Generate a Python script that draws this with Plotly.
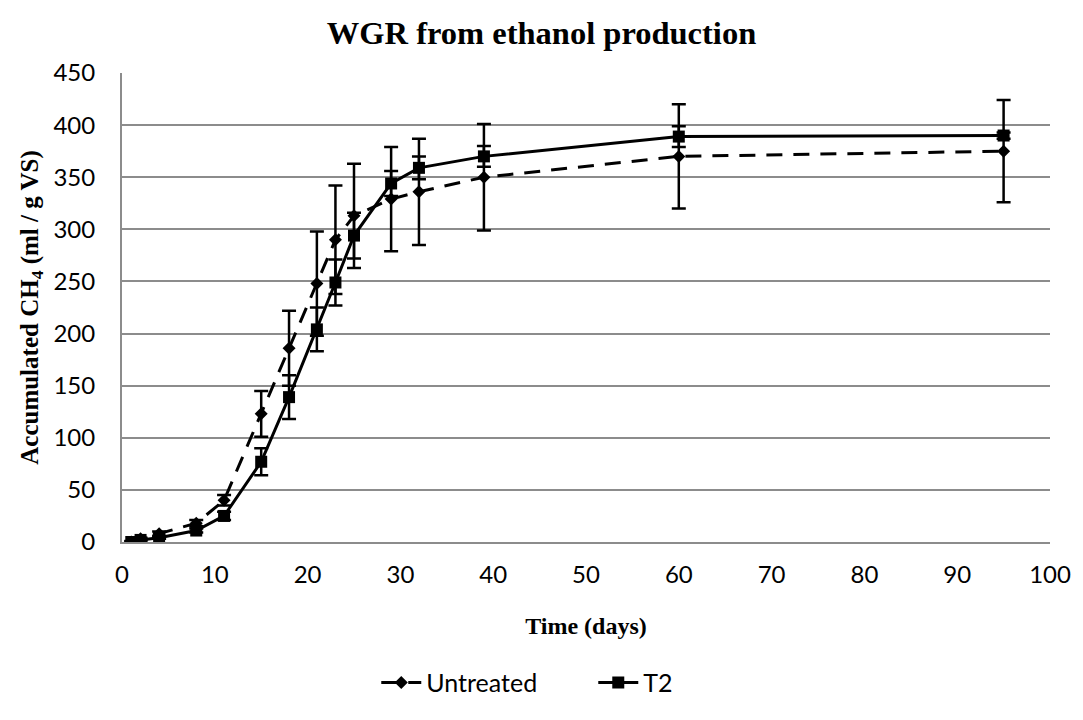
import plotly.graph_objects as go

days = [1, 2, 4, 8, 11, 15, 18, 21, 23, 25, 29, 32, 39, 60, 95]

untreated = [0, 3, 8, 18, 40, 123, 186, 248, 290, 313, 329, 336, 350, 370, 375]
untreated_err = [1, 1, 2, 3, 5, 22, 36, 50, 52, 50, 50, 51, 51, 50, 49]

t2 = [0, 2, 4, 11, 25, 77, 139, 204, 249, 294, 344, 359, 370, 389, 390]
t2_err = [0.5, 1, 1, 2, 4, 13, 21, 21, 22, 22, 12, 11, 10, 10, 3]

x_ticks = list(range(0, 101, 10))
y_ticks = list(range(0, 451, 50))

serif = "Liberation Serif"
sans = "Lato"

fig = go.Figure()
fig.add_trace(go.Scatter(
    x=days, y=untreated, name="Untreated", mode="lines+markers",
    line=dict(color="black", width=3, dash="16px,11px"),
    marker=dict(symbol="diamond", size=10, color="black"),
    error_y=dict(type="data", array=untreated_err, visible=True,
                 color="black", thickness=2.5, width=7),
))
fig.add_trace(go.Scatter(
    x=days, y=t2, name="T2", mode="lines+markers",
    line=dict(color="black", width=3),
    marker=dict(symbol="square", size=12, color="black"),
    error_y=dict(type="data", array=t2_err, visible=True,
                 color="black", thickness=2.5, width=7),
))

fig.update_layout(
    width=1083, height=720,
    paper_bgcolor="white", plot_bgcolor="white",
    margin=dict(l=122, r=26, t=73, b=178),
    title=dict(text="<b>WGR from ethanol production</b>",
               font=dict(family=serif, size=32.5, color="black"),
               x=0.5, xanchor="center", y=0.955, yanchor="middle"),
    showlegend=True,
    legend=dict(orientation="h", x=0.274, xanchor="left", y=-0.30,
                yanchor="middle", font=dict(family=sans, size=25, color="black"),
                itemwidth=40, entrywidth=162,
                bgcolor="rgba(0,0,0,0)"),
    xaxis=dict(range=[0, 100], tickvals=x_ticks, ticktext=[str(v) for v in x_ticks],
               showgrid=False, zeroline=False,
               showline=True, linecolor="#8c8c8c", linewidth=2,
               ticks="", ticklabelstandoff=10,
               tickfont=dict(family=sans, size=24, color="black"),
               title=dict(text="<b>Time (days)</b>", standoff=30,
                          font=dict(family=serif, size=24, color="black"))),
    yaxis=dict(range=[0, 450], tickvals=y_ticks, ticktext=[str(v) for v in y_ticks],
               showgrid=True, gridcolor="#8c8c8c", gridwidth=2, zeroline=False,
               showline=True, linecolor="#8c8c8c", linewidth=2,
               ticks="", ticklabelstandoff=20,
               tickfont=dict(family=sans, size=24, color="black"),
               title=dict(text="<b>Accumulated CH<sub>4</sub> (ml / g VS)</b>", standoff=8,
                          font=dict(family=serif, size=25, color="black"))),
)

fig.write_html("out.html")
